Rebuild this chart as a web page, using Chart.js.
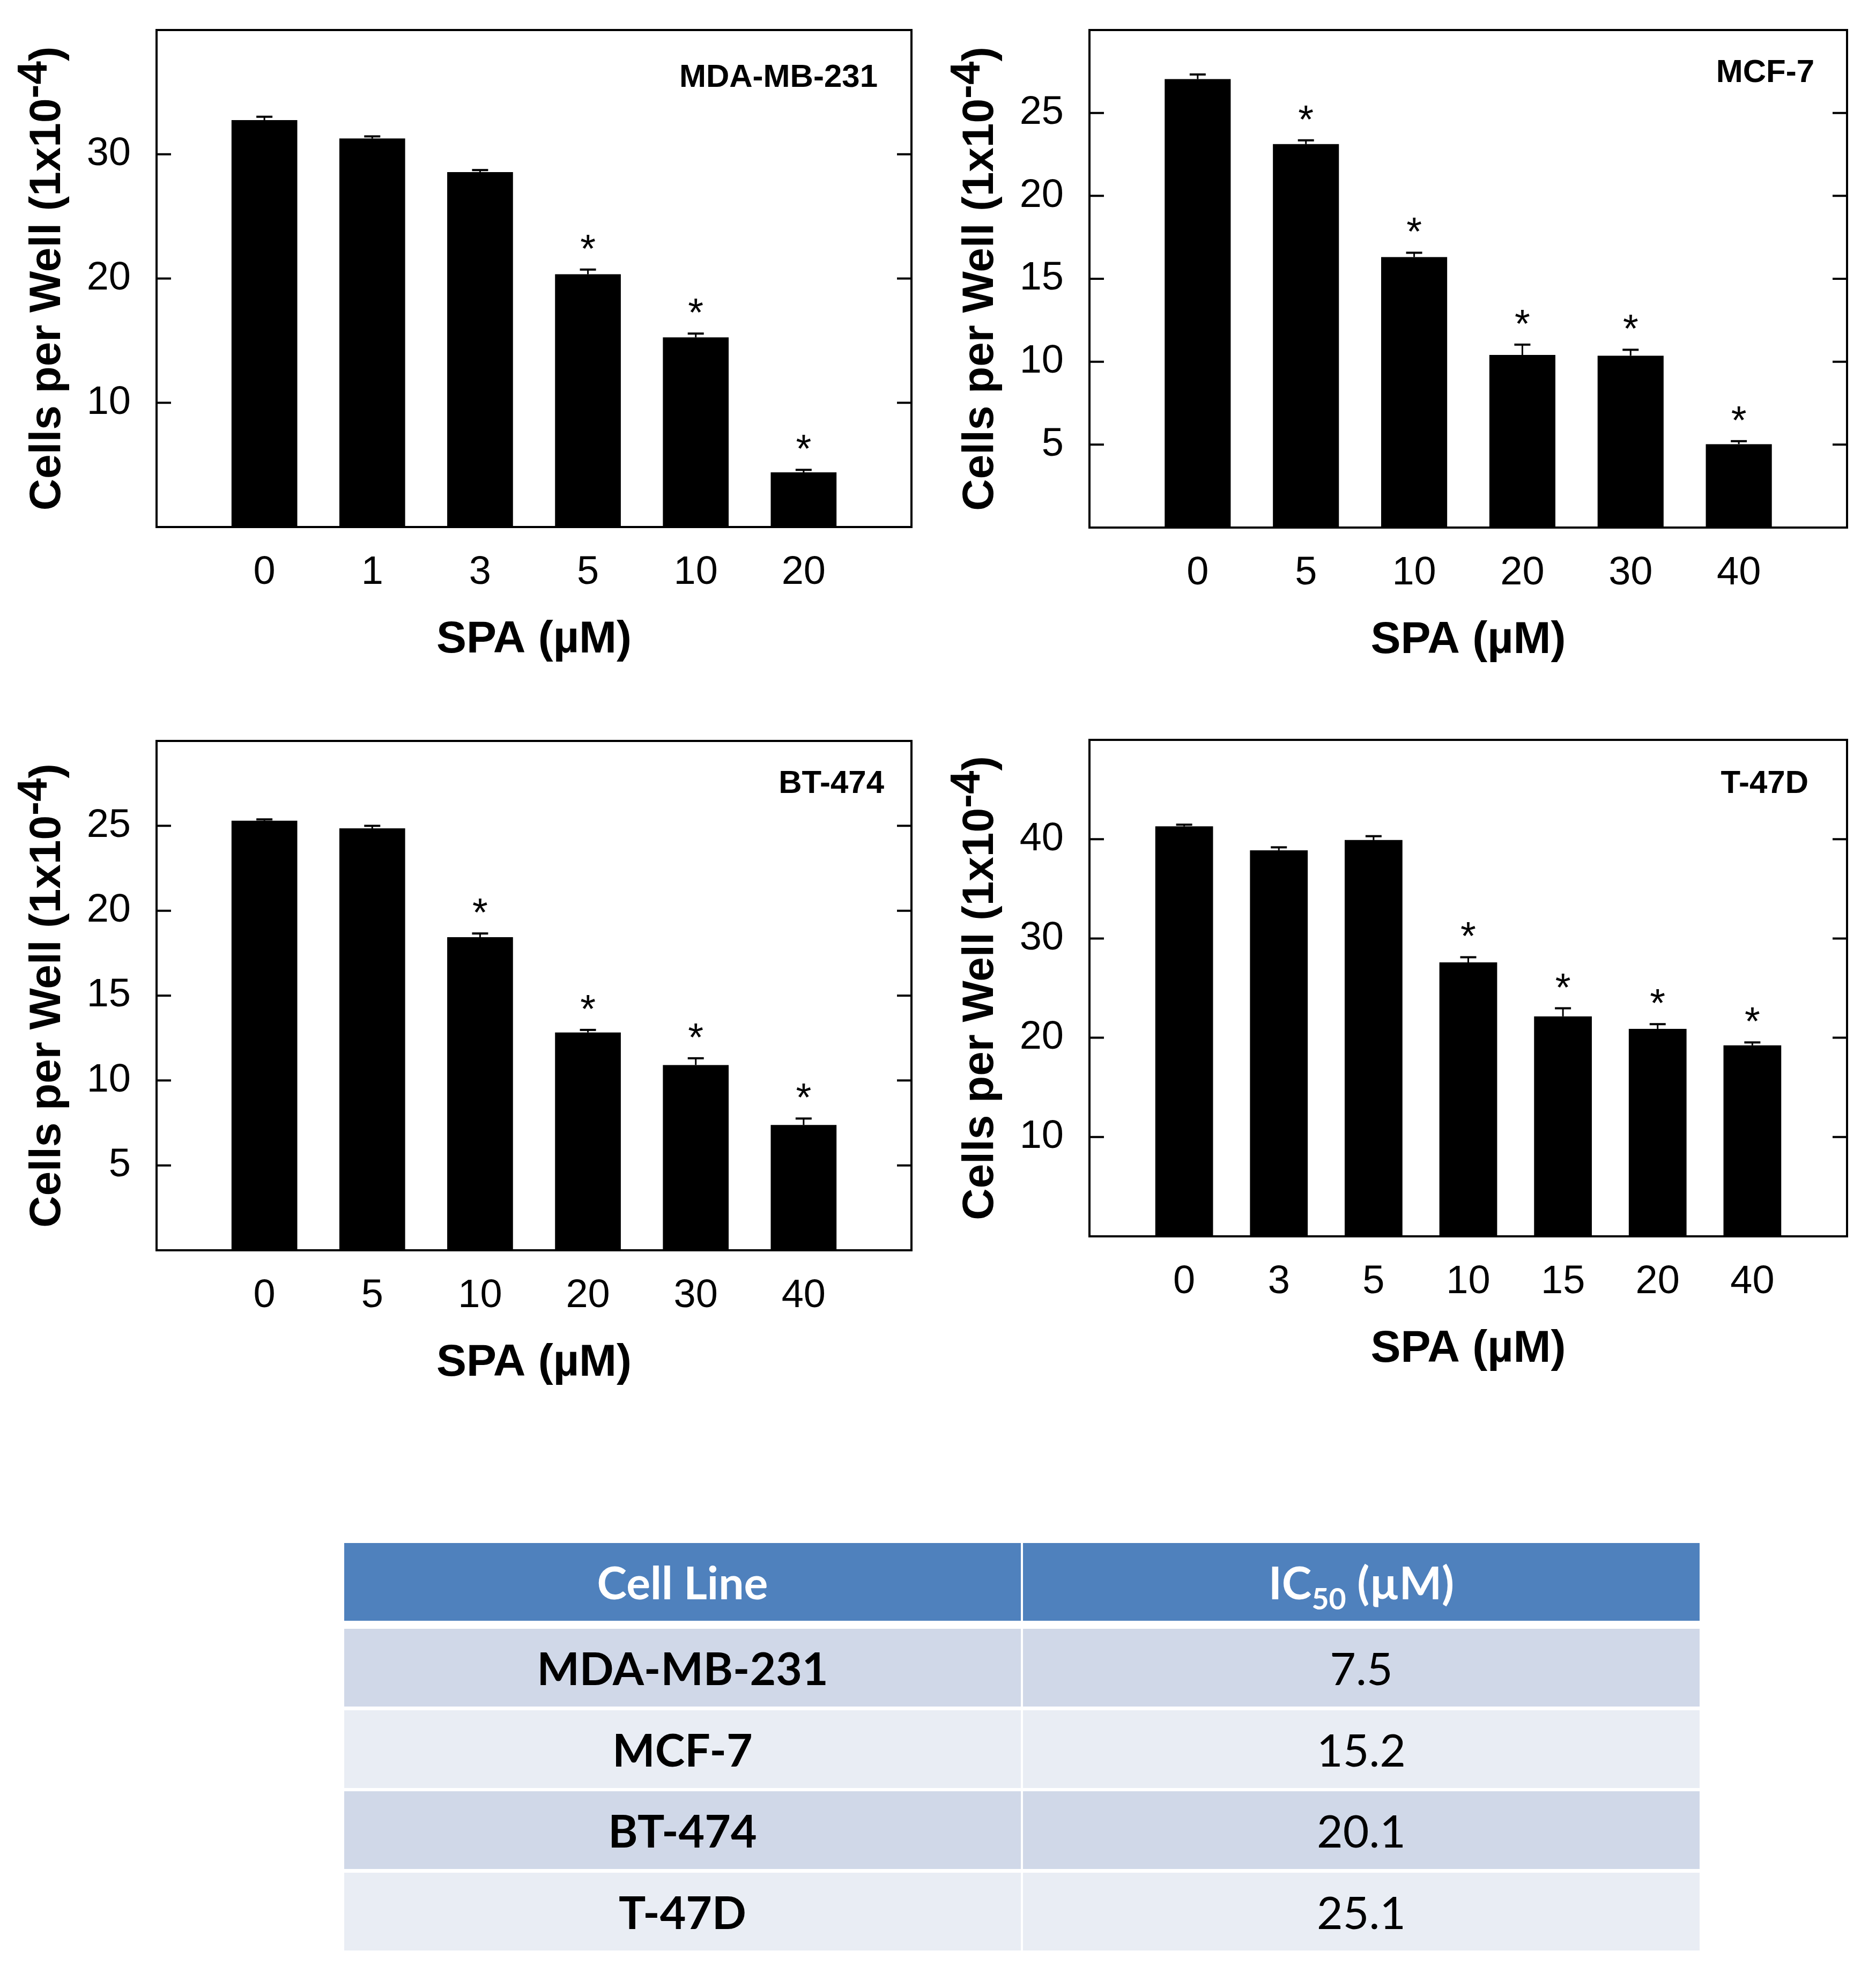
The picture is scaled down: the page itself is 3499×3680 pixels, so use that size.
<!DOCTYPE html>
<html>
<head>
<meta charset="utf-8">
<script src="https://cdn.jsdelivr.net/npm/chart.js@4.4.1/dist/chart.umd.min.js"></script>
<style>
html, body { margin: 0; padding: 0; background: #fff; }
body { width: 3499px; height: 3680px; position: relative; overflow: hidden; }
canvas { position: absolute; }
.cell { position: absolute; display: flex; align-items: center; justify-content: center;
        font-family: Lato, "Noto Sans", sans-serif; font-size: 84px; color: #000; }
.cell sub { font-size: 0.66em; vertical-align: -0.34em; line-height: 0; }
</style>
</head>
<body>
<script>
// ---- data (cells per well x 1e-4) ----
var mdaDoses = ['0', '1', '3', '5', '10', '20'];
var mdaCells = [32.75, 31.27, 28.56, 20.34, 15.26, 4.40];
var mdaErr   = [0.27, 0.17, 0.17, 0.38, 0.31, 0.20];
var mdaSig   = [false, false, false, true, true, true];

var mcfDoses = ['0', '5', '10', '20', '30', '40'];
var mcfCells = [27.04, 23.12, 16.31, 10.41, 10.36, 5.03];
var mcfErr   = [0.28, 0.23, 0.26, 0.62, 0.36, 0.18];
var mcfSig   = [false, true, true, true, true, true];

var btDoses = ['0', '5', '10', '20', '30', '40'];
var btCells = [25.30, 24.85, 18.44, 12.83, 10.91, 7.38];
var btErr   = [0.08, 0.15, 0.22, 0.15, 0.40, 0.38];
var btSig   = [false, false, true, true, true, true];

var t47Doses = ['0', '3', '5', '10', '15', '20', '40'];
var t47Cells = [41.29, 38.88, 39.91, 27.59, 22.15, 20.90, 19.23];
var t47Err   = [0.17, 0.30, 0.39, 0.52, 0.82, 0.47, 0.30];
var t47Sig   = [false, false, false, true, true, true, true];

var cellLines = ['MDA-MB-231', 'MCF-7', 'BT-474', 'T-47D'];
var ic50Values = [7.5, 15.2, 20.1, 25.1];

var yTitle = 'Cells per Well (1x10';
var yTitleSup = '-4';
var xTitle = 'SPA (\u00b5M)';

Chart.defaults.font.family = '"Liberation Sans", Arial, sans-serif';
Chart.defaults.color = '#000';

// draws frame, inward ticks, error bars, stars and the titles
var panelDecor = {
    id: 'panelDecor',
    afterDatasetsDraw: function(chart) {
        var p = chart.options.plugins.panelDecor;
        var ctx = chart.ctx;
        var a = chart.chartArea;
        var ys = chart.scales.y;
        var meta = chart.getDatasetMeta(0);
        var vals = chart.data.datasets[0].data;

        ctx.save();
        ctx.strokeStyle = '#000';
        ctx.fillStyle = '#000';

        p.err.forEach(function(e, i) {
            var bar = meta.data[i + 1];
            var yTop = ys.getPixelForValue(vals[i + 1] + e);
            ctx.lineWidth = 3;
            ctx.beginPath();
            ctx.moveTo(bar.x, bar.y);
            ctx.lineTo(bar.x, yTop);
            ctx.stroke();
            ctx.lineWidth = 4;
            ctx.beginPath();
            ctx.moveTo(bar.x - 15, yTop);
            ctx.lineTo(bar.x + 15, yTop);
            ctx.stroke();
            if (p.sig[i]) {
                ctx.font = '74px "Liberation Sans", Arial';
                ctx.textAlign = 'center';
                ctx.textBaseline = 'alphabetic';
                ctx.fillText('*', bar.x, yTop - 14);
            }
        });

        ctx.lineWidth = 4;
        ctx.strokeRect(a.left, a.top, a.right - a.left, a.bottom - a.top);

        ctx.beginPath();
        ys.ticks.forEach(function(t) {
            if (t.value <= ys.min || t.value >= ys.max) return;
            var y = ys.getPixelForValue(t.value);
            ctx.moveTo(a.left, y);
            ctx.lineTo(a.left + 27, y);
            ctx.moveTo(a.right, y);
            ctx.lineTo(a.right - 27, y);
        });
        ctx.stroke();

        // cell line label
        ctx.font = 'bold 60px "Liberation Sans", Arial';
        ctx.textAlign = 'right';
        ctx.textBaseline = 'alphabetic';
        ctx.fillText(p.label, a.right - p.labelGap, a.top + p.labelDy);

        // x title
        ctx.font = 'bold 84px "Liberation Sans", Arial';
        ctx.textAlign = 'center';
        ctx.fillText(xTitle, (a.left + a.right) / 2, a.bottom + 234);

        // y title with superscript
        ctx.translate(a.left - 180, (a.top + a.bottom) / 2);
        ctx.rotate(-Math.PI / 2);
        ctx.textAlign = 'left';
        var f1 = 'bold 82px "Liberation Sans", Arial';
        var f2 = 'bold 78px "Liberation Sans", Arial';
        ctx.font = f1;
        var w1 = ctx.measureText(yTitle).width;
        var w3 = ctx.measureText(')').width;
        ctx.font = f2;
        var w2 = ctx.measureText(yTitleSup).width;
        var x0 = -(w1 + w2 + w3) / 2;
        ctx.font = f1;
        ctx.fillText(yTitle, x0, 0);
        ctx.font = f2;
        ctx.fillText(yTitleSup, x0 + w1, -25);
        ctx.font = f1;
        ctx.fillText(')', x0 + w1 + w2, 0);

        ctx.restore();
    }
};

function makePanel(box, doses, cells, err, sig, yMax, step, label, labelGap, labelDy) {
    var canvas = document.createElement('canvas');
    var w = 292 + (box.right - box.left) + 50;
    var h = 56 + (box.bottom - box.top) + 290;
    canvas.width = w;
    canvas.height = h;
    canvas.style.left = (box.left - 292) + 'px';
    canvas.style.top = (box.top - 56) + 'px';
    canvas.style.width = w + 'px';
    canvas.style.height = h + 'px';
    document.body.appendChild(canvas);

    new Chart(canvas, {
        type: 'bar',
        data: {
            labels: [''].concat(doses, ['']),
            datasets: [{
                data: [null].concat(cells, [null]),
                backgroundColor: '#000',
                borderWidth: 0,
                categoryPercentage: 1,
                barPercentage: 0.61
            }]
        },
        options: {
            responsive: false,
            animation: false,
            devicePixelRatio: 1,
            layout: { padding: { left: 0, top: 56, right: 50, bottom: 0 } },
            plugins: {
                legend: { display: false },
                tooltip: { enabled: false },
                panelDecor: { err: err, sig: sig, label: label, labelGap: labelGap, labelDy: labelDy }
            },
            scales: {
                x: {
                    offset: false,
                    grid: { display: false },
                    border: { display: false },
                    ticks: { autoSkip: false, maxRotation: 0, padding: 33, font: { size: 74 }, color: '#000' },
                    afterFit: function(s) {
                        s.height = 290;
                        s.paddingLeft = 0;
                        s.paddingRight = 0;
                    }
                },
                y: {
                    min: 0,
                    max: yMax,
                    grid: { display: false },
                    border: { display: false },
                    ticks: {
                        stepSize: step,
                        padding: 40,
                        font: { size: 74 },
                        color: '#000',
                        callback: function(v) { return (v === 0 || v === yMax) ? '' : v; }
                    },
                    afterFit: function(s) {
                        s.width = 292;
                        s.paddingTop = 0;
                        s.paddingBottom = 0;
                    }
                }
            }
        },
        plugins: [panelDecor]
    });
}

makePanel({ left: 292, top: 56, right: 1700, bottom: 983 }, mdaDoses, mdaCells, mdaErr, mdaSig, 40, 10, 'MDA-MB-231', 63, 106);
makePanel({ left: 2032, top: 56, right: 3445, bottom: 984 }, mcfDoses, mcfCells, mcfErr, mcfSig, 30, 5, 'MCF-7', 61, 97);
makePanel({ left: 292, top: 1382, right: 1700, bottom: 2332 }, btDoses, btCells, btErr, btSig, 30, 5, 'BT-474', 51, 97);
makePanel({ left: 2032, top: 1380, right: 3445, bottom: 2306 }, t47Doses, t47Cells, t47Err, t47Sig, 50, 10, 'T-47D', 72, 99);

// ---- IC50 table ----
function addCell(html, x, y, w, h, bg, color, weight) {
    var d = document.createElement('div');
    d.className = 'cell';
    d.style.left = x + 'px';
    d.style.top = y + 'px';
    d.style.width = w + 'px';
    d.style.height = h + 'px';
    d.style.background = bg;
    d.style.color = color;
    d.style.fontWeight = weight;
    d.innerHTML = '<span>' + html + '</span>';
    document.body.appendChild(d);
}

var tLeft = 642, tMid = 1906, tRight = 3170;
addCell('Cell Line', tLeft, 2878, tMid - 2 - tLeft, 145, '#4f81bd', '#fff', 700);
addCell('IC<sub>50</sub> (\u00b5M)', tMid + 2, 2878, tRight - tMid - 2, 145, '#4f81bd', '#fff', 700);
cellLines.forEach(function(name, i) {
    var top = 3038 + i * 151.5;
    var bg = i % 2 === 0 ? '#d0d8e8' : '#e9edf4';
    addCell(name, tLeft, top, tMid - 2 - tLeft, 145, bg, '#000', 700);
    addCell(ic50Values[i].toFixed(1), tMid + 2, top, tRight - tMid - 2, 145, bg, '#000', 400);
});
</script>
</body>
</html>
